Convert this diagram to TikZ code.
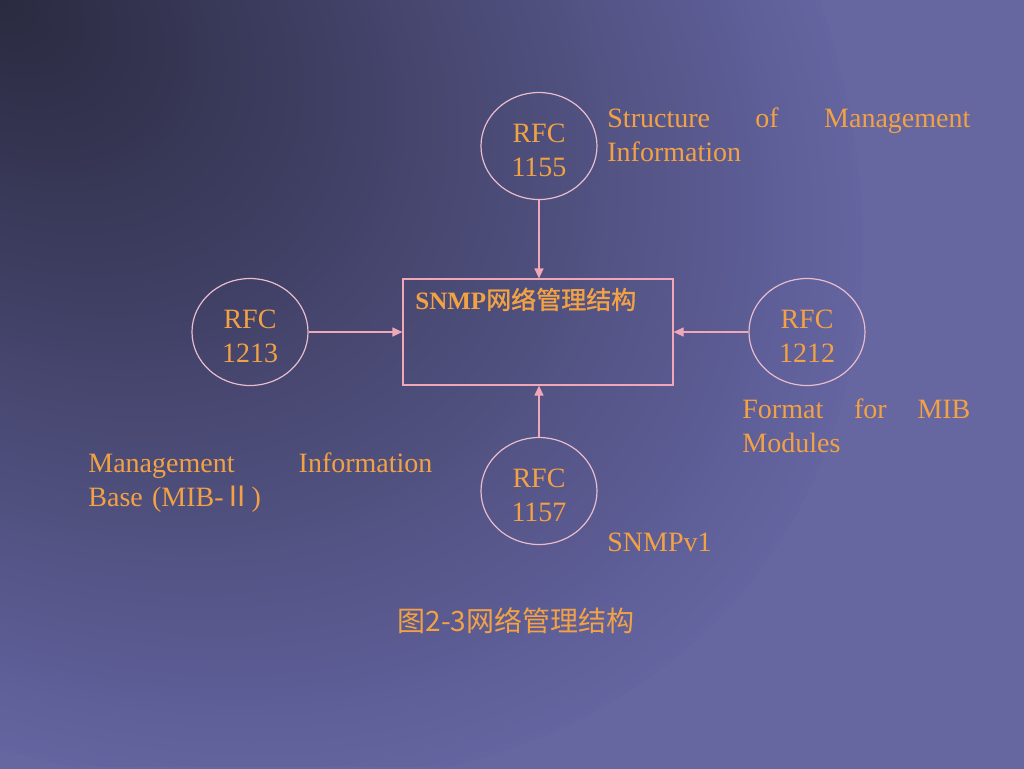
\documentclass[tikz,border=0pt]{standalone}
\usepackage{fontspec}
\setmainfont{Liberation Serif}
\newfontfamily\cjk{Noto Sans CJK SC}
\newfontfamily\cjkb{Noto Sans CJK SC}[FakeBold=1.2]
\usetikzlibrary{arrows.meta,shapes.geometric}
\definecolor{bgin}{HTML}{2A2A40}
\definecolor{bgma}{HTML}{3E3E62}
\definecolor{bgmb}{HTML}{50507F}
\definecolor{bgmc}{HTML}{5E5E98}
\definecolor{bgmd}{HTML}{6464A0}
\definecolor{bgout}{HTML}{6666A0}
\definecolor{txt}{HTML}{F2A244}
\definecolor{ring}{HTML}{E8BCCC}
\definecolor{arr}{HTML}{F0A8B8}
\pgfdeclareradialshading{bgshade}{\pgfpoint{0bp}{0bp}}{color(0bp)=(bgin); color(9bp)=(bgma); color(16.5bp)=(bgmb); color(22.5bp)=(bgmc); color(25bp)=(bgmd); color(50bp)=(bgout)}
\tikzset{
  rfcring/.style={ellipse, draw=ring, line width=0.6pt, minimum width=58pt, minimum height=53.5pt, inner sep=0pt},
  rfctext/.style={inner sep=0pt, text=txt, font=\fontsize{14}{17}\selectfont, align=center},
  mainbox/.style={draw=arr, line width=0.6pt, minimum width=135pt, minimum height=53pt, inner sep=0pt},
  conn/.style={draw=arr, line width=0.6pt, -{Triangle[length=5pt,width=4.5pt]}},
  desc/.style={text=txt, font=\fontsize{14}{17}\selectfont, inner sep=0pt, align=left},
}
\begin{document}
\begin{tikzpicture}[x=0.5pt,y=-0.5pt]
\useasboundingbox (0,0) rectangle (1024,768);
\fill[bgout] (-4,-4) rectangle (1028,772);
\begin{scope}
\clip (0,0) rectangle (1024,766);
\begin{scope}[transform canvas={rotate=-36.87}]
\shade[shading=bgshade] (0,0) ellipse [x radius=950, y radius=680];
\end{scope}
\end{scope}
% circles
\node[rfcring] (c1155) at (539,146) {};
\node[rfcring] (c1213) at (250,332) {};
\node[rfcring] (c1212) at (807,332) {};
\node[rfcring] (c1157) at (539,491) {};
\node[rfctext] (t1155) at ([yshift=-2pt]c1155.center) {RFC\\1155};
\node[rfctext] (t1213) at ([yshift=-2pt]c1213.center) {RFC\\1213};
\node[rfctext] (t1212) at ([yshift=-2pt]c1212.center) {RFC\\1212};
\node[rfctext] (t1157) at ([yshift=-2pt]c1157.center) {RFC\\1157};
% central box
\node[mainbox] (box) at (538,332) {};
\node[text=txt, inner sep=0pt, anchor=base west, font=\fontsize{12.5}{15}\selectfont] (title) at (415,309) {\textbf{SNMP}{\cjkb 网络管理结构}};
% connectors
\draw[conn] (c1155.south) -- (c1155.south |- box.north);
\draw[conn] (c1213.east) -- (box.west);
\draw[conn] (c1212.west) -- (box.east);
\draw[conn] (c1157.north) -- (c1157.north |- box.south);
% descriptions
\node[desc, text width=181.5pt, anchor=north west] (smi) at (607,107) {Structure\hfill of\hfill Management\\Information};
\node[desc, text width=114pt, anchor=north west] (fmt) at (742,398) {Format\hfill for\hfill MIB\\Modules};
\node[desc, text width=172pt, anchor=north west] (mib) at (88,452) {Management\hfill Information\\Base (MIB-{\cjk Ⅱ})};
\node[desc, anchor=base west] (v1) at (607,551) {SNMPv1};
% caption
\node[text=txt, inner sep=0pt, font=\fontsize{14}{16}\selectfont\cjk] (cap) at (516,621) {图2-3网络管理结构};
\end{tikzpicture}
\end{document}
